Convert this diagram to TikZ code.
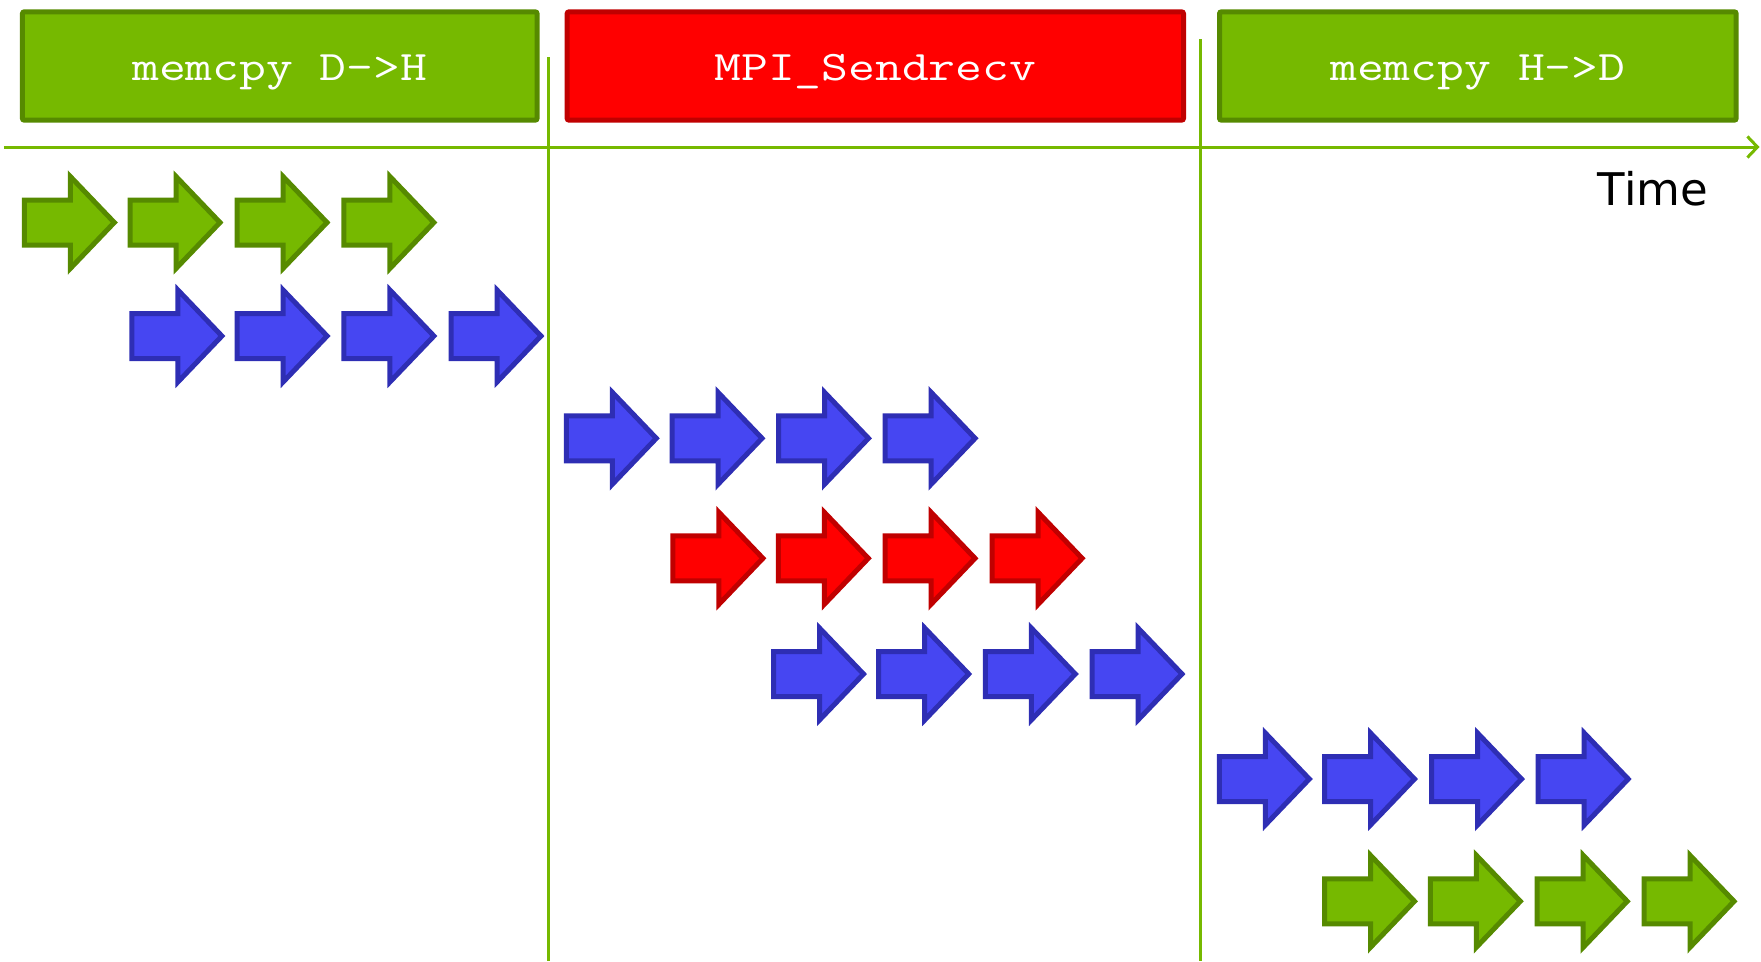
\documentclass[tikz,border=0pt]{standalone}
\usepackage{fontspec}
\newfontfamily\timefont{DejaVu Sans}
\usetikzlibrary{arrows.meta}
\definecolor{nvgreen}{HTML}{76B900}
\definecolor{nvgreendk}{HTML}{568A00}
\definecolor{bfill}{HTML}{4646F2}
\definecolor{bdraw}{HTML}{2E2EB4}
\definecolor{rfill}{HTML}{FF0000}
\definecolor{rdraw}{HTML}{C00000}
\newcommand{\boxtxt}[1]{\scalebox{1.24}[1]{#1}}
\begin{document}
\begin{tikzpicture}[x=1pt,y=-1pt,
  blk/.pic={\path[#1] (2.5,-22.5) -- (48.5,-22.5) -- (48.5,-46) -- (92.5,0) -- (48.5,46) -- (48.5,22.5) -- (2.5,22.5) -- cycle;},
  garr/.style={fill=nvgreen, draw=nvgreendk, line width=5pt, miter limit=10},
  barr/.style={fill=bfill, draw=bdraw, line width=5pt, miter limit=10},
  rarr/.style={fill=rfill, draw=rdraw, line width=5pt, miter limit=10},
  box/.style={rectangle, rounded corners=2pt, line width=5pt, minimum height=108.4pt,
    inner sep=0pt, text=white, font=\ttfamily\fontsize{42}{50}\selectfont,
    text height=38pt, text depth=10pt},
  gbox/.style={box, fill=nvgreen, draw=nvgreendk},
  rbox/.style={box, fill=rfill, draw=rdraw},
  gline/.style={draw=nvgreen, line width=3pt},
]
\useasboundingbox (0,0) rectangle (1761,961);
% boxes
\node[gbox, minimum width=514.7pt] (dh) at (279.75,66) {\boxtxt{memcpy D->H}};
\node[rbox, minimum width=616.4pt] (mpi) at (875.3,66) {\boxtxt{MPI\_Sendrecv}};
\node[gbox, minimum width=516.7pt] (hd) at (1477.85,66) {\boxtxt{memcpy H->D}};
% lines
\coordinate (v1t) at (548,57.3);
\coordinate (v1b) at (548,961);
\coordinate (v2t) at (1200.7,39.3);
\coordinate (v2b) at (1200.7,961);
\draw[gline] (v1t) -- (v1b);
\draw[gline] (v2t) -- (v2b);
\coordinate (a0) at (3.8,147);
\coordinate (a1) at (1759.5,147);
\draw[gline, -{Straight Barb[length=10pt,width=21pt]}] (a0) -- (a1);
\node[font=\timefont\fontsize{45}{54}\selectfont, anchor=base, inner sep=0pt] (time) at (1653,205) {Time};
% arrows
\foreach \x in {21.8,127.5,234.5,341.4} \pic at (\x,222.5) {blk=garr};
\foreach \x in {129.4,234.6,341.4,448.5} \pic at (\x,336) {blk=barr};
\foreach \x in {563.8,669.5,776,882.6} \pic at (\x,438.3) {blk=barr};
\foreach \x in {670.4,775.8,882.5,989.6} \pic at (\x,558.3) {blk=rarr};
\foreach \x in {771,876.2,982.8,1089.5} \pic at (\x,674) {blk=barr};
\foreach \x in {1216.8,1322,1429,1535.7} \pic at (\x,779) {blk=barr};
\foreach \x in {1322,1427.8,1534.7,1641.5} \pic at (\x,901.3) {blk=garr};
\end{tikzpicture}
\end{document}
